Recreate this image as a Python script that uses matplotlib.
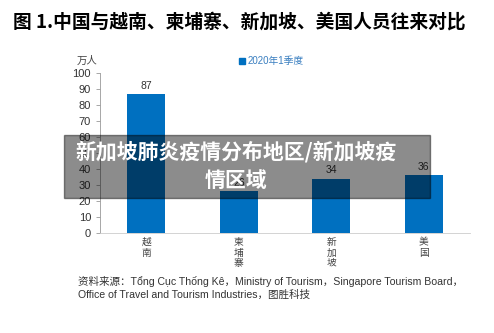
import matplotlib.pyplot as plt
from matplotlib.patches import Rectangle

plt.rcParams['font.family'] = ['Liberation Sans', 'Noto Sans CJK SC', 'DejaVu Sans']

# data
countries = ["越\n南", "柬\n埔\n寨", "新\n加\n坡", "美\n国"]
visitors = [87, 26, 34, 36]
value_labels = ["87", "26", "34", "36"]
series_name = "2020年1季度"

bar_color = "#0070c0"
cjk = ['Noto Sans CJK SC', 'DejaVu Sans']

fig = plt.figure(figsize=(4.94, 3.33), dpi=100)
W, H = 494, 333

ax = fig.add_axes([100 / W, 1 - 233 / H, 370 / W, 160 / H])
x = range(len(countries))
bars = ax.bar(x, visitors, width=0.41, color=bar_color, zorder=2)
for b, lab in zip(bars, value_labels):
    ax.text(b.get_x() + b.get_width() / 2, b.get_height() + 2, lab,
            ha="center", va="bottom", fontsize=7.5, color="#333333")

ax.set_xlim(-0.5, len(countries) - 0.5)
ax.set_ylim(0, 100)
ax.set_yticks(range(0, 101, 10))
ax.set_xticks(list(x))
ax.set_xticklabels(countries, fontsize=7, color="#444444", linespacing=1.05, family=cjk)
ax.tick_params(axis="y", labelsize=8, colors="#333333", length=3, width=0.6, color="#999999")
ax.tick_params(axis="x", length=0, pad=3)
for s in ["top", "right"]:
    ax.spines[s].set_visible(False)
ax.spines["left"].set_color("#999999")
ax.spines["bottom"].set_color("#cccccc")
ax.spines["left"].set_linewidth(0.6)
ax.spines["bottom"].set_linewidth(0.6)

# unit + legend
fig.text(77 / W, 1 - 61 / H, "万人", fontsize=7.5, color="#444444", va="center", family=cjk)
fig.patches.append(Rectangle((239 / W, 1 - 64 / H), 6 / W, 6 / H,
                             transform=fig.transFigure, color=bar_color))
fig.text(248 / W, 1 - 61 / H, series_name, fontsize=7, color="#3a7fc0", va="center")

# title
fig.text(13 / W, 1 - 22 / H, "图 1.中国与越南、柬埔寨、新加坡、美国人员往来对比",
         fontsize=13.5, fontweight="bold", color="black", va="center", family=cjk)

# source
fig.text(78 / W, 1 - 281 / H,
         "资料来源：Tổng Cục Thống Kê，Ministry of Tourism，Singapore Tourism Board，",
         fontsize=7.6, color="#333333", va="center")
fig.text(78 / W, 1 - 295 / H, "Office of Travel and Tourism Industries，图胜科技",
         fontsize=7.6, color="#333333", va="center")

# overlay banner
fig.patches.append(Rectangle((64 / W, 1 - 198 / H), 366 / W, 63 / H,
                             transform=fig.transFigure, color="black",
                             alpha=0.45, zorder=5))
fig.text(236 / W, 1 - 152 / H, "新加坡肺炎疫情分布地区/新加坡疫",
         fontsize=15, fontweight="bold", color="white", ha="center", va="center",
         zorder=6, family=cjk)
fig.text(236 / W, 1 - 180 / H, "情区域",
         fontsize=15, fontweight="bold", color="white", ha="center", va="center",
         zorder=6, family=cjk)

fig.savefig("out.png", dpi=100)
